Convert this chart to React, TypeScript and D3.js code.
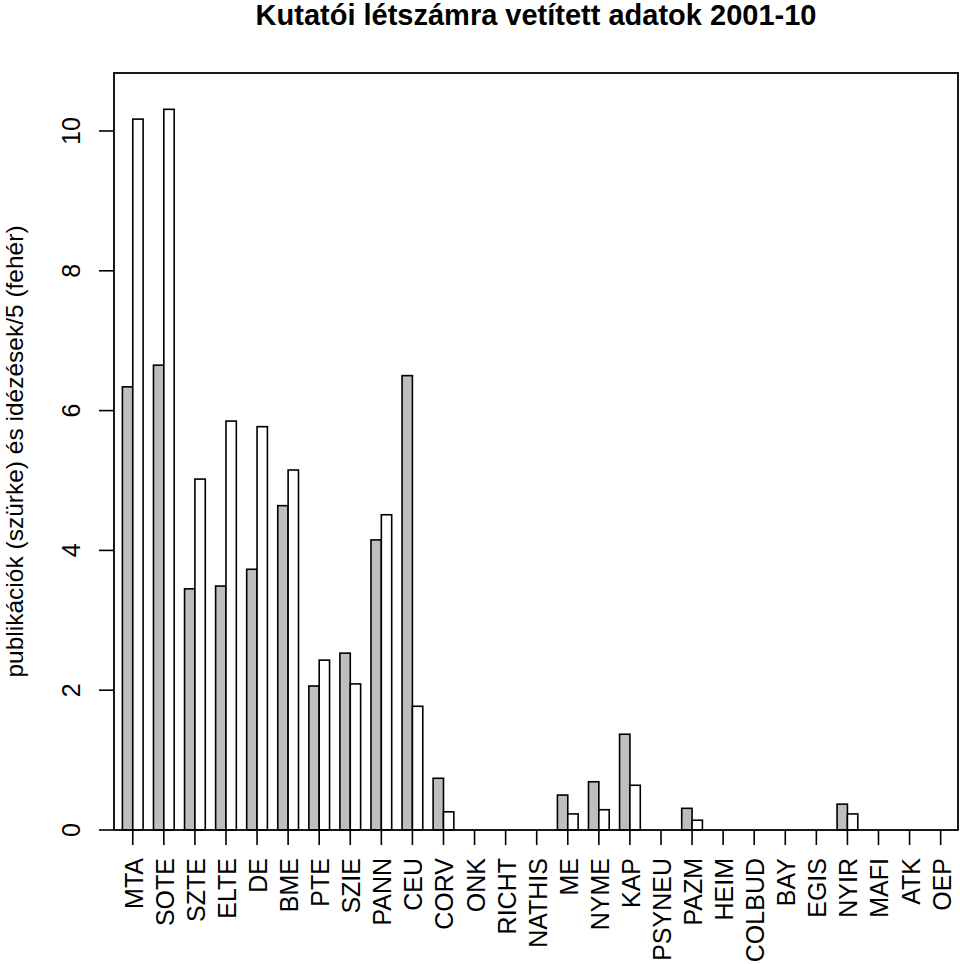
import { useEffect, useRef } from "react";
import * as d3 from "d3";

// institutions (x categories)
const institutions = [
  "MTA", "SOTE", "SZTE", "ELTE", "DE", "BME", "PTE", "SZIE", "PANN", "CEU",
  "CORV", "ONK", "RICHT", "NATHIS", "ME", "NYME", "KAP", "PSYNEU", "PAZM",
  "HEIM", "COLBUD", "BAY", "EGIS", "NYIR", "MAFI", "ATK", "OEP"
];

// publikációk (grey bars)
const publications = [
  6.34, 6.65, 3.45, 3.49, 3.73, 4.64, 2.06, 2.53, 4.15, 6.50,
  0.74, 0, 0, 0, 0.50, 0.69, 1.37, 0, 0.31,
  0, 0, 0, 0, 0.37, 0, 0, 0
];

// idézések/5 (white bars)
const citations = [
  10.17, 10.31, 5.02, 5.85, 5.77, 5.15, 2.43, 2.09, 4.51, 1.77,
  0.26, 0, 0, 0, 0.23, 0.29, 0.64, 0, 0.14,
  0, 0, 0, 0, 0.23, 0, 0, 0
];

const yTicks = [0, 2, 4, 6, 8, 10];

const App = () => {
  const svgRef = useRef<SVGSVGElement | null>(null);

  useEffect(() => {
    const svg = d3.select(svgRef.current);
    svg.selectAll("*").remove();

    const width = 960;
    const height = 964;
    const box = { left: 114, right: 958, top: 73, bottom: 830 };
    const font = "'Liberation Sans', Arial, Helvetica, sans-serif";

    svg.attr("width", width).attr("height", height);

    const x = d3.scaleBand<string>()
      .domain(institutions)
      .range([122.4, 951])
      .paddingInner(1 / 3)
      .paddingOuter(0);

    const xSub = d3.scaleBand<string>()
      .domain(["pub", "cit"])
      .range([0, x.bandwidth()]);

    const y = d3.scaleLinear()
      .domain([0, (box.bottom - box.top) / 69.9])
      .range([box.bottom, box.top]);

    const rows = institutions.map((name, i) => ({
      name,
      values: [
        { key: "pub", value: publications[i], fill: "#bebebe" },
        { key: "cit", value: citations[i], fill: "#ffffff" }
      ]
    }));

    // bars
    const groups = svg.append("g")
      .selectAll("g")
      .data(rows)
      .enter()
      .append("g")
      .attr("transform", d => `translate(${x(d.name)},0)`);

    groups.selectAll("rect")
      .data(d => d.values.filter(v => v.value > 0))
      .enter()
      .append("rect")
      .attr("x", d => xSub(d.key) ?? 0)
      .attr("y", d => y(d.value))
      .attr("width", xSub.bandwidth())
      .attr("height", d => y(0) - y(d.value))
      .attr("fill", d => d.fill)
      .attr("stroke", "#000")
      .attr("stroke-width", 1.6);

    // box
    svg.append("rect")
      .attr("x", box.left)
      .attr("y", box.top)
      .attr("width", box.right - box.left)
      .attr("height", box.bottom - box.top)
      .attr("fill", "none")
      .attr("stroke", "#000")
      .attr("stroke-width", 1.8);

    // y axis
    const yAxis = svg.append("g").attr("font-family", font);
    yAxis.selectAll("line")
      .data(yTicks)
      .enter()
      .append("line")
      .attr("x1", box.left - 15)
      .attr("x2", box.left)
      .attr("y1", d => y(d))
      .attr("y2", d => y(d))
      .attr("stroke", "#000")
      .attr("stroke-width", 1.6);
    yAxis.selectAll("text")
      .data(yTicks)
      .enter()
      .append("text")
      .attr("transform", d => `translate(80,${y(d)}) rotate(-90)`)
      .attr("text-anchor", "middle")
      .attr("font-size", 25)
      .text(d => String(d));

    // x axis ticks and labels
    const xAxis = svg.append("g").attr("font-family", font);
    xAxis.selectAll("line")
      .data(institutions)
      .enter()
      .append("line")
      .attr("x1", d => (x(d) ?? 0) + x.bandwidth() / 2)
      .attr("x2", d => (x(d) ?? 0) + x.bandwidth() / 2)
      .attr("y1", box.bottom)
      .attr("y2", box.bottom + 15)
      .attr("stroke", "#000")
      .attr("stroke-width", 1.6);
    xAxis.selectAll("text")
      .data(institutions)
      .enter()
      .append("text")
      .attr("transform", d => `translate(${(x(d) ?? 0) + x.bandwidth() / 2 + 1},858) rotate(-90)`)
      .attr("text-anchor", "end")
      .attr("dy", "0.36em")
      .attr("font-size", 25)
      .text(d => d);

    // y axis title
    svg.append("text")
      .attr("transform", `translate(23,${(box.top + box.bottom) / 2}) rotate(-90)`)
      .attr("text-anchor", "middle")
      .attr("font-family", font)
      .attr("font-size", 24.5)
      .text("publikációk (szürke) és idézések/5 (fehér)");

    // title
    svg.append("text")
      .attr("x", (box.left + box.right) / 2)
      .attr("y", 25)
      .attr("text-anchor", "middle")
      .attr("font-family", font)
      .attr("font-weight", "bold")
      .attr("font-size", 29)
      .text("Kutatói létszámra vetített adatok 2001-10");
  }, []);

  return (
    <svg
      ref={svgRef}
      style={{ position: "absolute", left: 0, top: 0, background: "#fff" }}
    ></svg>
  );
};

export default App;
